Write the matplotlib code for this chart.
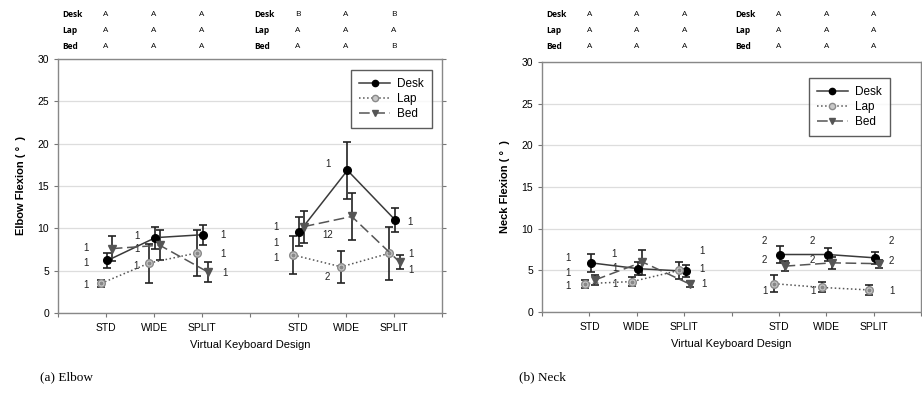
import matplotlib
matplotlib.use('Agg')
import matplotlib.pyplot as plt
from matplotlib.lines import Line2D

plt.rcParams['font.family'] = ['Liberation Sans', 'DejaVu Sans']

# categorias no eixo x (dois grupos de teclado)
designs = ['STD', 'WIDE', 'SPLIT', 'STD', 'WIDE', 'SPLIT']
posicoes = [1, 2, 3, 5, 6, 7]

# cotovelo (a)
elbow_desk = [6.2, 8.9, 9.25, 9.6, 16.85, 10.95]
elbow_desk_err = [0.9, 1.3, 1.2, 1.7, 3.4, 1.4]
elbow_lap = [3.5, 5.9, 7.1, 6.85, 5.45, 7.05]
elbow_lap_err = [0.4, 2.3, 2.7, 2.3, 1.9, 3.1]
elbow_bed = [7.6, 8.0, 4.85, 10.2, 11.4, 6.0]
elbow_bed_err = [1.5, 1.8, 1.2, 1.9, 2.8, 0.8]

# pescoço (b)
neck_desk = [5.9, 5.2, 4.9, 6.9, 6.9, 6.5]
neck_desk_err = [1.1, 0.75, 0.75, 1.0, 0.8, 0.7]
neck_lap = [3.4, 3.65, 5.0, 3.4, 2.95, 2.65]
neck_lap_err = [0.5, 0.5, 1.05, 1.05, 0.6, 0.65]
neck_bed = [3.85, 6.0, 3.35, 5.5, 5.9, 5.8]
neck_bed_err = [0.6, 1.5, 0.4, 0.6, 0.7, 0.5]

# letras de significância acima do gráfico
elbow_letras = {'Desk': ['A', 'A', 'A', 'B', 'A', 'B'],
                'Lap': ['A', 'A', 'A', 'A', 'A', 'A'],
                'Bed': ['A', 'A', 'A', 'A', 'A', 'B']}
neck_letras = {'Desk': ['A', 'A', 'A', 'A', 'A', 'A'],
               'Lap': ['A', 'A', 'A', 'A', 'A', 'A'],
               'Bed': ['A', 'A', 'A', 'A', 'A', 'A']}

# números ao lado dos pontos (texto, x, y)
elbow_notas = [('1', 0.58, 7.7), ('1', 0.58, 5.95), ('1', 0.58, 3.35),
               ('1', 1.65, 9.05), ('1', 1.65, 7.6), ('1', 1.62, 5.6),
               ('1', 3.44, 9.25), ('1', 3.44, 7.0), ('1', 3.47, 4.7),
               ('1', 4.54, 10.1), ('1', 4.54, 8.27), ('1', 4.54, 6.5),
               ('1', 5.62, 17.6), ('12', 5.62, 9.25), ('2', 5.6, 4.25),
               ('1', 7.33, 10.75), ('1', 7.36, 7.0), ('1', 7.36, 5.1)]
neck_notas = [('1', 0.55, 6.5), ('1', 0.55, 4.7), ('1', 0.55, 3.15),
              ('1', 1.52, 7.0), ('1', 1.55, 5.3), ('1', 1.55, 3.35),
              ('1', 3.38, 7.3), ('1', 3.38, 5.2), ('1', 3.41, 3.35),
              ('2', 4.7, 8.55), ('2', 4.7, 6.2), ('1', 4.7, 2.5),
              ('2', 5.7, 8.55), ('2', 5.7, 6.2), ('1', 5.72, 2.5),
              ('2', 7.38, 8.55), ('2', 7.38, 6.1), ('1', 7.38, 2.55)]

estilos = {
    'Desk': dict(color='#3a3a3a', ls='-', marker='o', mfc='black', mec='black', ms=5.5, dx=0.03),
    'Lap': dict(color='#555555', ls=':', marker='o', mfc='#c8c8c8', mec='#8a8a8a', ms=5.5, dx=-0.1),
    'Bed': dict(color='#555555', ls=(0, (7, 3)), marker='v', mfc='#555555', mec='#555555', ms=5.5, dx=0.12),
}


def desenhar(ax, series, letras, notas, ylabel, linhas_y, leg_box):
    for nome, (vals, errs) in series.items():
        st = estilos[nome]
        for g in (slice(0, 3), slice(3, 6)):
            xs = [p + st['dx'] for p in posicoes[g]]
            ax.errorbar(xs, vals[g], yerr=errs[g], color=st['color'], ls=st['ls'], lw=1.1,
                        marker=st['marker'], mfc=st['mfc'], mec=st['mec'], ms=st['ms'],
                        ecolor='#222222', elinewidth=1.2, capsize=3.2, capthick=1.2, zorder=3)
            if nome == 'Lap':
                # pontinho escuro no meio do círculo
                ax.plot(xs, vals[g], ls='none', marker='o', ms=1.8, color='#888888', zorder=4)
    ax.set_xlim(0, 8)
    ax.set_ylim(0, 30)
    ax.set_yticks(range(0, 31, 5))
    ax.set_xticks(range(0, 9))
    rotulos = [''] * 9
    for p, d in zip(posicoes, designs):
        rotulos[p] = d
    ax.set_xticklabels(rotulos, fontsize=7.5)
    ax.tick_params(axis='y', labelsize=7.5, direction='out', length=3, color='#777777', right=True)
    ax.tick_params(axis='x', direction='out', length=3, color='#777777', pad=4)
    ax.grid(axis='y', color='#dddddd', lw=0.9)
    ax.set_axisbelow(True)
    for s in ax.spines.values():
        s.set_color('#888888')
        s.set_linewidth(1.0)
    ax.set_ylabel(ylabel, fontsize=8, fontweight='bold', labelpad=8)
    ax.set_xlabel('Virtual Keyboard Design', fontsize=8, labelpad=5)

    trans = ax.get_xaxis_transform()
    for i, (nome, lets) in enumerate(letras.items()):
        yy = linhas_y[i]
        for g0 in (0, 3):
            ax.text(posicoes[g0] - 0.92, yy, nome, transform=trans, fontsize=6,
                    fontweight='bold', family=['Open Sans', 'DejaVu Sans'], va='center', ha='left')
            for k in range(3):
                ax.text(posicoes[g0 + k], yy, lets[g0 + k], transform=trans, fontsize=6,
                        family=['Open Sans', 'DejaVu Sans'], va='center', ha='center')

    for txt, x, y in notas:
        ax.text(x, y, txt, fontsize=7, ha='center', va='center', color='#222222')

    handles = []
    for nome in ['Desk', 'Lap', 'Bed']:
        st = estilos[nome]
        handles.append(Line2D([], [], color=st['color'], ls=st['ls'], lw=1.1, marker=st['marker'],
                              mfc=st['mfc'], mec=st['mec'], ms=4.5))
    leg = ax.legend(handles, ['Desk', 'Lap', 'Bed'], loc='upper right', bbox_to_anchor=leg_box,
                    fontsize=8.5, frameon=True, fancybox=False, edgecolor='#333333',
                    handlelength=2.6, handletextpad=0.6, borderpad=0.7, labelspacing=0.25,
                    borderaxespad=0)
    leg.get_frame().set_linewidth(1.0)


fig = plt.figure(figsize=(9.22, 3.94), dpi=100)
ax1 = fig.add_axes([0.0629, 0.2056, 0.4165, 0.6447])
ax2 = fig.add_axes([0.5879, 0.2081, 0.4110, 0.6345])

desenhar(ax1, {'Desk': (elbow_desk, elbow_desk_err), 'Lap': (elbow_lap, elbow_lap_err),
               'Bed': (elbow_bed, elbow_bed_err)},
         elbow_letras, elbow_notas, 'Elbow Flexion ( °  )', [1.177, 1.114, 1.051], (0.974, 0.957))
desenhar(ax2, {'Desk': (neck_desk, neck_desk_err), 'Lap': (neck_lap, neck_lap_err),
               'Bed': (neck_bed, neck_bed_err)},
         neck_letras, neck_notas, 'Neck Flexion ( °  )', [1.192, 1.128, 1.064], (0.918, 0.936))

fig.text(0.043, 0.035, '(a) Elbow', fontsize=9.5, family=['Liberation Serif', 'DejaVu Serif'])
fig.text(0.563, 0.035, '(b) Neck', fontsize=9.5, family=['Liberation Serif', 'DejaVu Serif'])

fig.savefig('out.png', dpi=100)
